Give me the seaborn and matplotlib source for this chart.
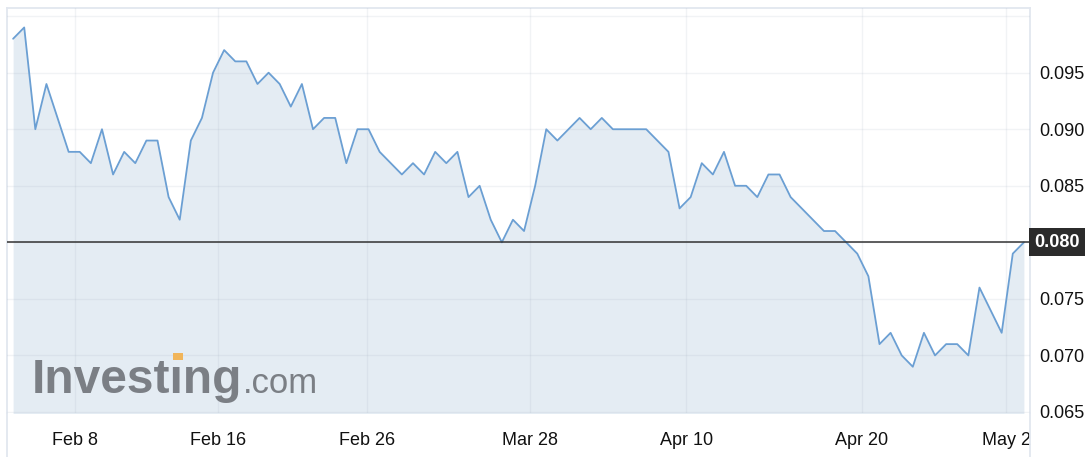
import matplotlib
matplotlib.use("Agg")
import matplotlib.pyplot as plt
import seaborn as sns
import numpy as np
import pandas as pd
from matplotlib.lines import Line2D
from matplotlib.patches import Rectangle
from matplotlib.transforms import Affine2D

# ---- data ----
prices = [0.098, 0.099, 0.090, 0.094, 0.091, 0.088, 0.088, 0.087, 0.090, 0.086,
          0.088, 0.087, 0.089, 0.089, 0.084, 0.082, 0.089, 0.091, 0.095, 0.097,
          0.096, 0.096, 0.094, 0.095, 0.094, 0.092, 0.094, 0.090, 0.091, 0.091,
          0.087, 0.090, 0.090, 0.088, 0.087, 0.086, 0.087, 0.086, 0.088, 0.087,
          0.088, 0.084, 0.085, 0.082, 0.080, 0.082, 0.081, 0.085, 0.090, 0.089,
          0.090, 0.091, 0.090, 0.091, 0.090, 0.090, 0.090, 0.090, 0.089, 0.088,
          0.083, 0.084, 0.087, 0.086, 0.088, 0.085, 0.085, 0.084, 0.086, 0.086,
          0.084, 0.083, 0.082, 0.081, 0.081, 0.080, 0.079, 0.077, 0.071, 0.072,
          0.070, 0.069, 0.072, 0.070, 0.071, 0.071, 0.070, 0.076, 0.074, 0.072,
          0.079, 0.080]
session = list(range(len(prices)))
tick_labels = ["Feb 8", "Feb 16", "Feb 26", "Mar 28", "Apr 10", "Apr 20", "May 2"]
tick_sessions = [5.6, 18.45, 31.85, 46.5, 60.6, 76.4, 89.4]
y_ticks = [0.065, 0.070, 0.075, 0.080, 0.085, 0.090, 0.095, 0.100]
last_price = 0.080

df = pd.DataFrame({"session": session, "price": prices})

sns.set_theme(style="white")
plt.rcParams["font.family"] = ["Liberation Sans", "DejaVu Sans"]

W, H = 1086, 457
fig = plt.figure(figsize=(W / 100, H / 100), dpi=100)
fig.patch.set_facecolor("white")

left_px, right_px, top_px, bottom_px = 7, 1030, 8, 413
ax = fig.add_axes([left_px / W, (H - bottom_px) / H,
                   (right_px - left_px) / W, (bottom_px - top_px) / H])

line_col = "#6b9fd3"
fill_col = "#e4ecf3"

ax.fill_between(df["session"], df["price"], 0.0640, color=fill_col, lw=0, zorder=1)
sns.lineplot(data=df, x="session", y="price", ax=ax, color=line_col,
             linewidth=1.3, zorder=4)

ax.set_xlim(-0.55, len(prices) - 1 + 0.55)
ax.set_ylim(0.06491, 0.10072)

ax.set_xticks(tick_sessions)
ax.set_xticklabels(tick_labels)
ax.set_yticks(y_ticks)
ax.set_yticklabels(["" if (abs(v - last_price) < 1e-9 or v > 0.0975) else f"{v:.3f}"
                    for v in y_ticks])
ax.yaxis.tick_right()
ax.tick_params(axis="y", length=0, pad=7, labelsize=13, labelcolor="#111111",
               left=False, labelleft=False, right=False, labelright=True)
ax.tick_params(axis="x", length=0, pad=14, labelsize=13, labelcolor="#111111")
ax.set_xlabel("")
ax.set_ylabel("")

ax.grid(True, color="#9aa6b8", alpha=0.13, linewidth=1.0)
ax.set_axisbelow(False)

for s in ["top", "left", "right"]:
    ax.spines[s].set_color("#e2e7ef")
    ax.spines[s].set_linewidth(1.3)
ax.spines["bottom"].set_visible(False)

# frame continues below the plot area
for xp in (left_px, right_px):
    fig.add_artist(Line2D([xp / W, xp / W], [0, (H - bottom_px) / H],
                          color="#e2e7ef", lw=1.3))

# last price line + label
ax.axhline(last_price, color="#333333", lw=1.1, zorder=5)
ax.annotate(f"{last_price:.3f}", xy=(1.0, last_price), xycoords=("axes fraction", "data"),
            xytext=(4, 0), textcoords="offset pixels", ha="left", va="center",
            fontsize=13, color="white", fontweight="bold",
            bbox=dict(boxstyle="square,pad=0.3", fc="#2b2b2b", ec="none"),
            annotation_clip=False, zorder=6)

# watermark
px = Affine2D().scale(1 / W, 1 / H) + fig.transFigure
logo_col = "#7b7f85"
fig.text(32, H - 393, "Investıng", transform=px, fontsize=34.5, fontweight="bold",
         color=logo_col, ha="left", va="baseline", zorder=3)
fig.text(243, H - 393, ".com", transform=px, fontsize=25, color=logo_col,
         ha="left", va="baseline", zorder=3)
fig.add_artist(Rectangle((173 / W, (H - 360) / H), 10 / W, 7 / H,
                         transform=fig.transFigure, color="#f1b55a", lw=0))

fig.savefig("out.png", dpi=100)
